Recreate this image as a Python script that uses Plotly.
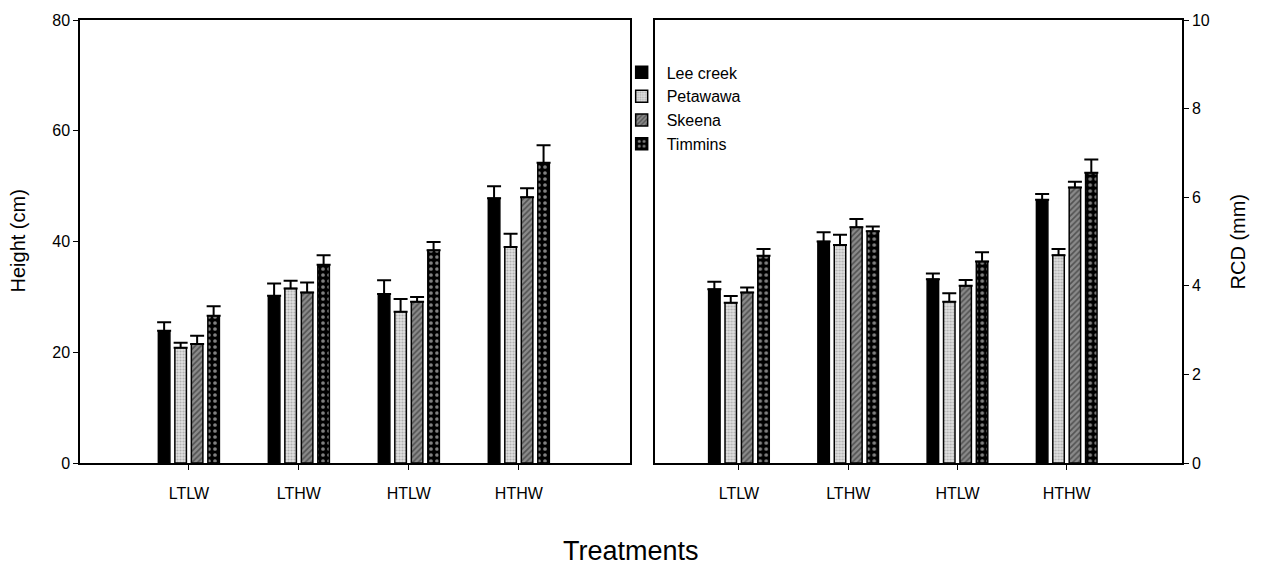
import plotly.graph_objects as go

treatments = ["LTLW", "LTHW", "HTLW", "HTHW"]
sources = ["Lee creek", "Petawawa", "Skeena", "Timmins"]

height_mean = {
    "Lee creek": [23.9, 30.2, 30.5, 47.8],
    "Petawawa": [20.8, 31.5, 27.3, 39.0],
    "Skeena": [21.5, 30.8, 29.1, 48.0],
    "Timmins": [26.6, 35.8, 38.4, 54.2],
}
height_se = {
    "Lee creek": [1.5, 2.2, 2.5, 2.2],
    "Petawawa": [0.9, 1.4, 2.3, 2.4],
    "Skeena": [1.5, 1.8, 0.9, 1.6],
    "Timmins": [1.7, 1.7, 1.5, 3.2],
}
rcd_mean = {
    "Lee creek": [3.92, 5.00, 4.15, 5.94],
    "Petawawa": [3.62, 4.92, 3.64, 4.69],
    "Skeena": [3.85, 5.32, 4.00, 6.22],
    "Timmins": [4.68, 5.23, 4.55, 6.55],
}
rcd_se = {
    "Lee creek": [0.17, 0.21, 0.13, 0.13],
    "Petawawa": [0.15, 0.23, 0.19, 0.14],
    "Skeena": [0.11, 0.19, 0.13, 0.13],
    "Timmins": [0.15, 0.11, 0.21, 0.30],
}

styles = {
    "Lee creek": dict(color="black", pattern=dict(shape="")),
    "Petawawa": dict(color="#dcdcdc", pattern=dict(shape=".", fgcolor="#808080", bgcolor="#e0e0e0", size=3, solidity=0.4)),
    "Skeena": dict(color="#6a6a6a", pattern=dict(shape="/", fgcolor="#1a1a1a", bgcolor="#8a8a8a", size=4, solidity=0.4)),
    "Timmins": dict(color="black", pattern=dict(shape=".", fgcolor="white", bgcolor="black", size=6, solidity=0.3)),
}

FONT = "Liberation Sans, Arial, sans-serif"
fig = go.Figure()

for s in sources:
    st = styles[s]
    fig.add_trace(go.Bar(
        x=treatments, y=height_mean[s], name=s, showlegend=True,
        marker=dict(color=st["color"], pattern=st["pattern"], line=dict(color="black", width=1.5)),
        error_y=dict(type="data", array=height_se[s], symmetric=False,
                     arrayminus=[0] * len(treatments), color="black", thickness=2, width=7),
        xaxis="x", yaxis="y",
    ))
for s in sources:
    st = styles[s]
    fig.add_trace(go.Bar(
        x=treatments, y=rcd_mean[s], name=s, showlegend=False,
        marker=dict(color=st["color"], pattern=st["pattern"], line=dict(color="black", width=1.5)),
        error_y=dict(type="data", array=rcd_se[s], symmetric=False,
                     arrayminus=[0] * len(treatments), color="black", thickness=2, width=7),
        xaxis="x2", yaxis="y2",
    ))

axis_common = dict(showline=True, linecolor="black", linewidth=1.5, mirror=True,
                   showgrid=False, zeroline=False,
                   tickfont=dict(family=FONT, size=16, color="black"))

fig.update_layout(
    width=1273, height=568,
    margin=dict(l=80, r=91, t=15, b=105),
    paper_bgcolor="white", plot_bgcolor="white",
    barmode="group", bargap=0.4, bargroupgap=0.3,
    font=dict(family=FONT, color="black"),
    xaxis=dict(domain=[0, 0.499], range=[-0.99, 4.01], ticks="outside", ticklen=5,
               tickcolor="black", ticklabelstandoff=10, **axis_common),
    xaxis2=dict(domain=[0.522, 1], range=[-0.766, 4.055], ticks="outside", ticklen=5,
                tickcolor="black", ticklabelstandoff=10, anchor="y2", **axis_common),
    yaxis=dict(range=[0, 80], tickvals=[0, 20, 40, 60, 80], ticks="outside", ticklen=5,
               tickcolor="black", anchor="x", **axis_common),
    yaxis2=dict(range=[0, 10], tickvals=[0, 2, 4, 6, 8, 10], ticks="outside", ticklen=5,
                tickcolor="black", side="right", anchor="x2", **axis_common),
    legend=dict(x=0.487, y=0.92, xanchor="left", yanchor="top", bgcolor="rgba(0,0,0,0)",
                font=dict(family=FONT, size=16, color="black"), itemwidth=40),
    annotations=[
        dict(text="Treatments", x=0.5, y=-0.199, xref="paper", yref="paper",
             xanchor="center", yanchor="middle", showarrow=False,
             font=dict(family=FONT, size=27, color="black")),
        dict(text="Height (cm)", x=0, y=0.5, xref="paper", yref="paper", xshift=-76,
             showarrow=False, textangle=-90, font=dict(family=FONT, size=20, color="black")),
        dict(text="RCD (mm)", x=1.0, y=0.5, xref="paper", yref="paper", xshift=68,
             showarrow=False, textangle=-90, font=dict(family=FONT, size=20, color="black")),
    ],
)

fig.write_html("out.html")
